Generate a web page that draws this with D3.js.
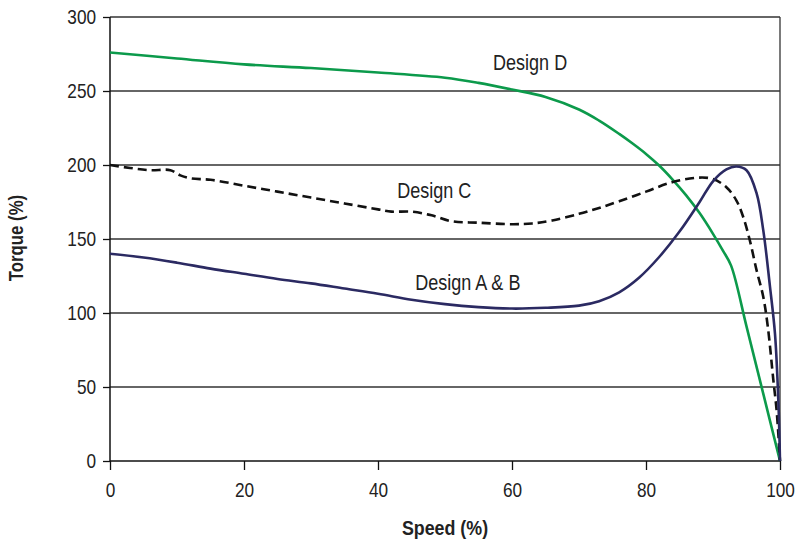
<!DOCTYPE html>
<html>
<head>
<meta charset="utf-8">
<script src="https://cdn.jsdelivr.net/npm/d3@7"></script>
<style>
  body { margin: 0; background: #fff; }
  svg text { font-family: "Liberation Sans Narrow", "Liberation Sans", Arial, sans-serif; fill: #222; }
</style>
</head>
<body>
<svg id="chart" width="795" height="542"></svg>
<script>
// torque-speed curves, [speed %, torque %]
const designD = [[0,276],[10,272],[20,268],[30,265.5],[40,262.5],[50,259],[55,255.5],[60,251],[65,246],[70,237.5],[73,230],[76,221],[78,214.5],[80,207.5],[82,199.5],[84,190],[86,179.5],[88,167.5],[90,153.5],[91.5,142],[92.7,132],[95,91],[97.5,45.5],[100,0]];
const designAB = [[0,140],[5,137.5],[10,134],[15,130],[20,126.5],[25,123],[30,120],[35,116.5],[40,113],[45,109],[50,106],[55,104],[60,103],[65,103.5],[70,105],[73,108],[76,114],[79,124],[82,138],[85,155],[88,175],[90,189],[92,197],[93.5,199],[95,196.5],[96.5,181],[97.5,156],[98.5,118],[99.25,86],[99.75,41],[100,0]];
const designC = [[0,200],[3,198],[6,196.5],[9,196.5],[10.5,193],[12,191],[15,190],[20,186],[25,182],[30,178],[35,174],[40,170],[42,168.5],[45,168.5],[48,166],[51,162],[55,161],[60,160],[63,160.5],[66,162.5],[70,167],[73,171],[76,175.5],[80,182],[84,188.5],[88,191.5],[90,190.5],[92,185],[93.5,176],[94.5,165],[95.5,149],[96.5,129],[97.5,111],[98.2,90],[99,55],[99.5,34],[100,0]];

const xTicks = [0, 20, 40, 60, 80, 100];
const yTicks = [0, 50, 100, 150, 200, 250, 300];

const labels = [
    { text: "Design D", x: 62.7, y: 264.5 },
    { text: "Design C", x: 48.4, y: 178 },
    { text: "Design A & B", x: 53.4, y: 115.5 }
];

// the reference uses a condensed face, squeeze text horizontally
const narrow = 0.82;

const svg = d3.select("#chart");
const margin = { top: 17, right: 15, bottom: 81, left: 110 };
const width = 795 - margin.left - margin.right;
const height = 542 - margin.top - margin.bottom;

const x = d3.scaleLinear().domain([0, 100]).range([0, width]);
const y = d3.scaleLinear().domain([0, 300]).range([height, 0]);

const g = svg.append("g").attr("transform", "translate(" + margin.left + "," + margin.top + ")");

// horizontal gridlines
g.append("g")
    .selectAll("line")
    .data(yTicks.filter(function(d) { return d > 0; }))
    .enter().append("line")
    .attr("x1", 0).attr("x2", width)
    .attr("y1", function(d) { return y(d); })
    .attr("y2", function(d) { return y(d); })
    .attr("stroke", "#333").attr("stroke-width", 1.3);

// right border
g.append("line")
    .attr("x1", width).attr("x2", width)
    .attr("y1", 0).attr("y2", height)
    .attr("stroke", "#333").attr("stroke-width", 1.3);

// axes
const xAxis = g.append("g")
    .attr("transform", "translate(0," + height + ")")
    .call(d3.axisBottom(x).tickValues(xTicks).tickSize(9).tickPadding(12));
const yAxis = g.append("g")
    .call(d3.axisLeft(y).tickValues(yTicks).tickSize(7).tickPadding(10));

[xAxis, yAxis].forEach(function(a) {
    a.select(".domain").attr("stroke", "#111").attr("stroke-width", 1.5);
    a.selectAll(".tick line").attr("stroke", "#111").attr("stroke-width", 1.3);
    a.selectAll(".tick text")
        .style("font-size", "21px").attr("fill", "#222")
        .attr("transform", "scale(" + narrow + ",1)");
});
xAxis.select(".domain").attr("d", "M0,0H" + width);
yAxis.select(".domain").attr("d", "M0," + height + "V0");

const line = d3.line()
    .x(function(d) { return x(d[0]); })
    .y(function(d) { return y(d[1]); })
    .curve(d3.curveCatmullRom.alpha(0.5));

g.append("path").datum(designD)
    .attr("d", line).attr("fill", "none")
    .attr("stroke", "#0c9a4b").attr("stroke-width", 2.6);

g.append("path").datum(designC)
    .attr("d", line).attr("fill", "none")
    .attr("stroke", "#111").attr("stroke-width", 2.6)
    .attr("stroke-dasharray", "9,5");

g.append("path").datum(designAB)
    .attr("d", line).attr("fill", "none")
    .attr("stroke", "#2b2a62").attr("stroke-width", 2.6);

g.selectAll("text.label")
    .data(labels)
    .enter().append("text")
    .attr("class", "label")
    .attr("transform", function(d) {
        return "translate(" + x(d.x) + "," + y(d.y) + ") scale(" + narrow + ",1)";
    })
    .attr("text-anchor", "middle")
    .style("font-size", "22px")
    .text(function(d) { return d.text; });

// axis titles
svg.append("text")
    .attr("transform", "translate(" + (margin.left + width / 2) + ",535) scale(0.85,1)")
    .attr("text-anchor", "middle")
    .style("font-size", "21px").style("font-weight", "bold").attr("fill", "#111")
    .text("Speed (%)");

svg.append("text")
    .attr("transform", "translate(23,238) rotate(-90) scale(0.84,1)")
    .attr("text-anchor", "middle")
    .style("font-size", "20px").style("font-weight", "bold").attr("fill", "#111")
    .text("Torque (%)");
</script>
</body>
</html>
